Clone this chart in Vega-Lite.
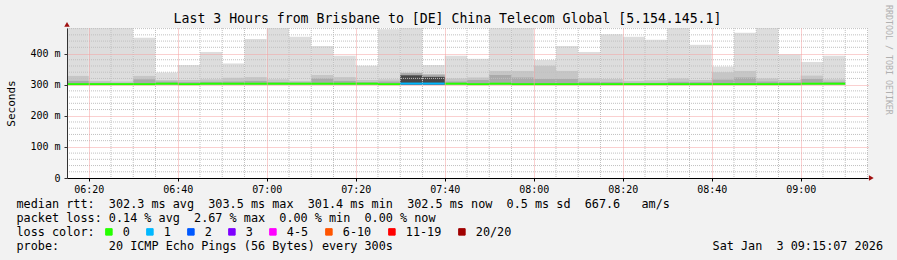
{
  "$schema": "https://vega.github.io/schema/vega-lite/v6.json",
  "width": 801,
  "height": 150,
  "autosize": {"type": "none"},
  "padding": {"left": 67, "top": 28, "right": 29, "bottom": 82},
  "background": "#f2f2f2",
  "title": {
    "text": "Last 3 Hours from Brisbane to [DE] China Telecom Global [5.154.145.1]",
    "font": "DejaVu Sans Mono",
    "fontSize": 13.2,
    "fontWeight": "normal",
    "color": "#000000",
    "anchor": "middle",
    "baseline": "alphabetic",
    "offset": 4,
    "dx": -20,
    "dy": 35
  },
  "datasets": {
    "cols": [
      {"t": "2026-01-03T06:15:00", "t2": "2026-01-03T06:20:00", "lo": 300, "max": 482, "mid": 328, "dark": 312, "med": 301.5, "loss": "0"},
      {"t": "2026-01-03T06:20:00", "t2": "2026-01-03T06:25:00", "lo": 300, "max": 482, "mid": 312, "dark": 306, "med": 301.5, "loss": "0"},
      {"t": "2026-01-03T06:25:00", "t2": "2026-01-03T06:30:00", "lo": 300, "max": 482, "mid": 310, "dark": 305, "med": 301.5, "loss": "0"},
      {"t": "2026-01-03T06:30:00", "t2": "2026-01-03T06:35:00", "lo": 300, "max": 451, "mid": 328, "dark": 317, "med": 301.5, "loss": "0"},
      {"t": "2026-01-03T06:35:00", "t2": "2026-01-03T06:40:00", "lo": 300, "max": 339, "mid": 315, "dark": 310, "med": 303, "loss": "0"},
      {"t": "2026-01-03T06:40:00", "t2": "2026-01-03T06:45:00", "lo": 300, "max": 363, "mid": 315, "dark": 308, "med": 301.5, "loss": "0"},
      {"t": "2026-01-03T06:45:00", "t2": "2026-01-03T06:50:00", "lo": 300, "max": 405, "mid": 317, "dark": 309, "med": 303, "loss": "0"},
      {"t": "2026-01-03T06:50:00", "t2": "2026-01-03T06:55:00", "lo": 300, "max": 368, "mid": 322, "dark": 310, "med": 303, "loss": "0"},
      {"t": "2026-01-03T06:55:00", "t2": "2026-01-03T07:00:00", "lo": 300, "max": 447, "mid": 324, "dark": 312, "med": 303, "loss": "0"},
      {"t": "2026-01-03T07:00:00", "t2": "2026-01-03T07:05:00", "lo": 300, "max": 482, "mid": 317, "dark": 308, "med": 303, "loss": "0"},
      {"t": "2026-01-03T07:05:00", "t2": "2026-01-03T07:10:00", "lo": 300, "max": 454, "mid": 312, "dark": 307, "med": 303, "loss": "0"},
      {"t": "2026-01-03T07:10:00", "t2": "2026-01-03T07:15:00", "lo": 300, "max": 424, "mid": 331, "dark": 320, "med": 303, "loss": "0"},
      {"t": "2026-01-03T07:15:00", "t2": "2026-01-03T07:20:00", "lo": 300, "max": 393, "mid": 324, "dark": 312, "med": 303, "loss": "0"},
      {"t": "2026-01-03T07:20:00", "t2": "2026-01-03T07:25:00", "lo": 300, "max": 361, "mid": 315, "dark": 308, "med": 303, "loss": "0"},
      {"t": "2026-01-03T07:25:00", "t2": "2026-01-03T07:30:00", "lo": 300, "max": 478, "mid": 317, "dark": 310, "med": 301.5, "loss": "0"},
      {"t": "2026-01-03T07:30:00", "t2": "2026-01-03T07:35:00", "lo": 300, "max": 482, "mid": 339, "dark": 337, "core": 330, "med": 303.5, "loss": "1"},
      {"t": "2026-01-03T07:35:00", "t2": "2026-01-03T07:40:00", "lo": 300, "max": 363, "mid": 334, "dark": 332, "core": 325, "med": 303.5, "loss": "1"},
      {"t": "2026-01-03T07:40:00", "t2": "2026-01-03T07:45:00", "lo": 300, "max": 393, "mid": 320, "dark": 310, "med": 303, "loss": "0"},
      {"t": "2026-01-03T07:45:00", "t2": "2026-01-03T07:50:00", "lo": 300, "max": 383, "mid": 323, "dark": 315, "med": 301.5, "loss": "0"},
      {"t": "2026-01-03T07:50:00", "t2": "2026-01-03T07:55:00", "lo": 300, "max": 482, "mid": 344, "dark": 331, "med": 303, "loss": "0"},
      {"t": "2026-01-03T07:55:00", "t2": "2026-01-03T08:00:00", "lo": 300, "max": 482, "mid": 344, "dark": 323, "med": 301.5, "loss": "0"},
      {"t": "2026-01-03T08:00:00", "t2": "2026-01-03T08:05:00", "lo": 300, "max": 379, "mid": 361, "dark": 318, "med": 301.5, "loss": "0"},
      {"t": "2026-01-03T08:05:00", "t2": "2026-01-03T08:10:00", "lo": 300, "max": 424, "mid": 344, "dark": 318, "med": 301.5, "loss": "0"},
      {"t": "2026-01-03T08:10:00", "t2": "2026-01-03T08:15:00", "lo": 300, "max": 405, "mid": 320, "dark": 309, "med": 301.5, "loss": "0"},
      {"t": "2026-01-03T08:15:00", "t2": "2026-01-03T08:20:00", "lo": 300, "max": 462, "mid": 318, "dark": 308, "med": 301.5, "loss": "0"},
      {"t": "2026-01-03T08:20:00", "t2": "2026-01-03T08:25:00", "lo": 300, "max": 454, "mid": 312, "dark": 306, "med": 301.5, "loss": "0"},
      {"t": "2026-01-03T08:25:00", "t2": "2026-01-03T08:30:00", "lo": 300, "max": 444, "mid": 314, "dark": 306, "med": 301.5, "loss": "0"},
      {"t": "2026-01-03T08:30:00", "t2": "2026-01-03T08:35:00", "lo": 300, "max": 482, "mid": 320, "dark": 309, "med": 301.5, "loss": "0"},
      {"t": "2026-01-03T08:35:00", "t2": "2026-01-03T08:40:00", "lo": 300, "max": 428, "mid": 315, "dark": 308, "med": 301.5, "loss": "0"},
      {"t": "2026-01-03T08:40:00", "t2": "2026-01-03T08:45:00", "lo": 300, "max": 358, "mid": 340, "dark": 316, "med": 301.5, "loss": "0"},
      {"t": "2026-01-03T08:45:00", "t2": "2026-01-03T08:50:00", "lo": 300, "max": 467, "mid": 344, "dark": 323, "med": 301.5, "loss": "0"},
      {"t": "2026-01-03T08:50:00", "t2": "2026-01-03T08:55:00", "lo": 300, "max": 482, "mid": 320, "dark": 310, "med": 301.5, "loss": "0"},
      {"t": "2026-01-03T08:55:00", "t2": "2026-01-03T09:00:00", "lo": 300, "max": 397, "mid": 315, "dark": 308, "med": 301.5, "loss": "0"},
      {"t": "2026-01-03T09:00:00", "t2": "2026-01-03T09:05:00", "lo": 300, "max": 373, "mid": 329, "dark": 318, "med": 303, "loss": "0"},
      {"t": "2026-01-03T09:05:00", "t2": "2026-01-03T09:10:00", "lo": 300, "max": 393, "mid": 317, "dark": 309, "med": 303, "loss": "0"}
    ],
    "hgrid": [
      {"v": 20}, {"v": 40}, {"v": 60}, {"v": 80}, {"v": 120}, {"v": 140}, {"v": 160}, {"v": 180},
      {"v": 220}, {"v": 240}, {"v": 260}, {"v": 280}, {"v": 320}, {"v": 340}, {"v": 360}, {"v": 380},
      {"v": 420}, {"v": 440}, {"v": 460}, {"v": 480}
    ],
    "vgrid": [
      {"g": "2026-01-03T06:25:00"}, {"g": "2026-01-03T06:30:00"}, {"g": "2026-01-03T06:35:00"},
      {"g": "2026-01-03T06:45:00"}, {"g": "2026-01-03T06:50:00"}, {"g": "2026-01-03T06:55:00"},
      {"g": "2026-01-03T07:05:00"}, {"g": "2026-01-03T07:10:00"}, {"g": "2026-01-03T07:15:00"},
      {"g": "2026-01-03T07:25:00"}, {"g": "2026-01-03T07:30:00"}, {"g": "2026-01-03T07:35:00"},
      {"g": "2026-01-03T07:45:00"}, {"g": "2026-01-03T07:50:00"}, {"g": "2026-01-03T07:55:00"},
      {"g": "2026-01-03T08:05:00"}, {"g": "2026-01-03T08:10:00"}, {"g": "2026-01-03T08:15:00"},
      {"g": "2026-01-03T08:25:00"}, {"g": "2026-01-03T08:30:00"}, {"g": "2026-01-03T08:35:00"},
      {"g": "2026-01-03T08:45:00"}, {"g": "2026-01-03T08:50:00"}, {"g": "2026-01-03T08:55:00"},
      {"g": "2026-01-03T09:05:00"}, {"g": "2026-01-03T09:10:00"}, {"g": "2026-01-03T09:15:00"}
    ],
    "stamp": [{"label": "RRDTOOL / TOBI OETIKER"}]
  },
  "data": {"name": "cols"},
  "layer": [
    {
      "mark": {"type": "bar", "color": "#dddddd", "clip": true},
      "encoding": {
        "x": {
          "field": "t", "type": "temporal",
          "scale": {"domain": ["2026-01-03T06:15:07", "2026-01-03T09:15:07"]},
          "axis": {
            "orient": "bottom",
            "values": ["2026-01-03T06:20:00", "2026-01-03T06:40:00", "2026-01-03T07:00:00", "2026-01-03T07:20:00", "2026-01-03T07:40:00", "2026-01-03T08:00:00", "2026-01-03T08:20:00", "2026-01-03T08:40:00", "2026-01-03T09:00:00"],
            "tickCount": 40,
            "format": "%H:%M",
            "labelFont": "DejaVu Sans Mono", "labelFontSize": 10, "labelColor": "#000000",
            "labelPadding": 3, "labelFlush": false, "labelOverlap": false,
            "ticks": true, "tickSize": 3, "tickColor": "#000000",
            "domain": true, "domainColor": "#000000", "domainWidth": 1,
            "grid": true, "gridColor": "#f4a0a0", "gridDash": [1, 1], "gridWidth": 1, "zindex": 1,
            "title": [
              "median\u00a0rtt:\u00a0\u00a0302.3\u00a0ms\u00a0avg\u00a0\u00a0303.5\u00a0ms\u00a0max\u00a0\u00a0301.4\u00a0ms\u00a0min\u00a0\u00a0302.5\u00a0ms\u00a0now\u00a0\u00a00.5\u00a0ms\u00a0sd\u00a0\u00a0667.6\u00a0\u00a0\u00a0am/s",
              "packet\u00a0loss:\u00a00.14\u00a0%\u00a0avg\u00a0\u00a02.67\u00a0%\u00a0max\u00a0\u00a00.00\u00a0%\u00a0min\u00a0\u00a00.00\u00a0%\u00a0now",
              "loss\u00a0color:",
              "probe:\u00a0\u00a0\u00a0\u00a0\u00a0\u00a0\u00a020\u00a0ICMP\u00a0Echo\u00a0Pings\u00a0(56\u00a0Bytes)\u00a0every\u00a0300s\u00a0\u00a0\u00a0\u00a0\u00a0\u00a0\u00a0\u00a0\u00a0\u00a0\u00a0\u00a0\u00a0\u00a0\u00a0\u00a0\u00a0\u00a0\u00a0\u00a0\u00a0\u00a0\u00a0\u00a0\u00a0\u00a0\u00a0\u00a0\u00a0\u00a0\u00a0\u00a0\u00a0\u00a0\u00a0\u00a0\u00a0\u00a0\u00a0\u00a0\u00a0\u00a0\u00a0\u00a0\u00a0Sat\u00a0Jan\u00a0\u00a03\u00a009:15:07\u00a02026"
            ],
            "titleFont": "DejaVu Sans Mono", "titleFontSize": 11.8, "titleFontWeight": "normal", "titleColor": "#000000",
            "titleAnchor": "start", "titleAlign": "left", "titleBaseline": "alphabetic",
            "titleX": -51, "titleY": 29.3, "titleLineHeight": 14
          }
        },
        "x2": {"field": "t2"},
        "y": {
          "field": "lo", "type": "quantitative",
          "scale": {"domain": [0, 482], "nice": false, "zero": false},
          "axis": {
            "orient": "left",
            "values": [0, 100, 200, 300, 400],
            "tickCount": 10,
            "labelExpr": "datum.value == 0 ? '0' : datum.value + ' m'",
            "labelFont": "DejaVu Sans Mono", "labelFontSize": 10, "labelColor": "#000000",
            "labelOverlap": false, "labelFlush": false,
            "labelPadding": 4, "ticks": true, "tickSize": 3, "tickColor": "#333333",
            "domain": true, "domainColor": "#333333", "domainWidth": 1,
            "grid": true, "gridColor": "#f4a0a0", "gridDash": [1, 1], "gridWidth": 1, "zindex": 1,
            "title": "Seconds", "titleFont": "DejaVu Sans Mono", "titleFontSize": 11, "titleFontWeight": "normal",
            "titleColor": "#000000", "titleX": -56, "titleAngle": -90, "titleAlign": "center", "titleBaseline": "middle"
          }
        },
        "y2": {"field": "max"}
      }
    },
    {
      "mark": {"type": "bar", "color": "#c6c6c6", "clip": true},
      "encoding": {
        "x": {"field": "t", "type": "temporal"},
        "x2": {"field": "t2"},
        "y": {"field": "lo", "type": "quantitative"},
        "y2": {"field": "mid"}
      }
    },
    {
      "mark": {"type": "bar", "color": "#aaaaaa", "clip": true},
      "encoding": {
        "x": {"field": "t", "type": "temporal"},
        "x2": {"field": "t2"},
        "y": {"field": "lo", "type": "quantitative"},
        "y2": {"field": "dark"}
      }
    },
    {
      "transform": [{"filter": "isValid(datum.core)"}],
      "mark": {"type": "bar", "color": "#474747", "clip": true},
      "encoding": {
        "x": {"field": "t", "type": "temporal"},
        "x2": {"field": "t2"},
        "y": {"field": "lo", "type": "quantitative"},
        "y2": {"field": "core"}
      }
    },
    {
      "data": {"name": "hgrid"},
      "mark": {"type": "rule", "color": "#c0c0c0", "strokeDash": [1, 1], "strokeWidth": 1},
      "encoding": {
        "y": {"field": "v", "type": "quantitative"}
      }
    },
    {
      "data": {"name": "vgrid"},
      "mark": {"type": "rule", "color": "#c0c0c0", "strokeDash": [1, 1], "strokeWidth": 1},
      "encoding": {
        "x": {"field": "g", "type": "temporal"}
      }
    },
    {
      "mark": {"type": "bar", "opacity": 0, "clip": true},
      "encoding": {
        "x": {"field": "t", "type": "temporal"},
        "x2": {"field": "t2"},
        "y": {"field": "lo", "type": "quantitative"},
        "y2": {"field": "med"},
        "color": {
          "field": "loss", "type": "nominal",
          "scale": {
            "domain": ["0", "1", "2", "3", "4-5", "6-10", "11-19", "20/20"],
            "range": ["#26ff00", "#00b8ff", "#0059ff", "#7e00ff", "#ff00ff", "#ff5500", "#ff0000", "#a10000"]
          },
          "legend": {
            "orient": "none", "legendX": 36, "legendY": 198,
            "direction": "horizontal", "columns": 8, "gridAlign": "none", "title": null,
            "symbolType": "square", "symbolSize": 42, "symbolOpacity": 1,
            "symbolStrokeColor": "#000000", "symbolStrokeWidth": 1,
            "labelFont": "DejaVu Sans Mono", "labelFontSize": 11.8, "labelColor": "#000000",
            "labelOffset": 8, "columnPadding": 14
          }
        }
      }
    },
    {
      "mark": {"type": "rule", "strokeWidth": 2, "clip": true},
      "encoding": {
        "x": {"field": "t", "type": "temporal"},
        "x2": {"field": "t2"},
        "y": {"field": "med", "type": "quantitative"},
        "color": {"field": "loss", "type": "nominal"}
      }
    },
    {
      "data": {"name": "stamp"},
      "mark": {"type": "text", "angle": 90, "align": "left", "baseline": "middle", "font": "DejaVu Sans Mono", "fontSize": 8.3, "color": "#b0b0b0"},
      "encoding": {
        "x": {"datum": {"year": 2026, "month": 1, "date": 3, "hours": 9, "minutes": 19, "seconds": 37}, "type": "temporal"},
        "y": {"datum": 556, "type": "quantitative"},
        "text": {"field": "label"}
      }
    },
    {
      "data": {"name": "stamp"},
      "mark": {"type": "point", "shape": "triangle-right", "filled": true, "color": "#a01010", "size": 30, "opacity": 1},
      "encoding": {
        "x": {"datum": {"year": 2026, "month": 1, "date": 3, "hours": 9, "minutes": 15, "seconds": 52}, "type": "temporal"},
        "y": {"datum": 0, "type": "quantitative"}
      }
    },
    {
      "data": {"name": "stamp"},
      "mark": {"type": "point", "shape": "triangle-up", "filled": true, "color": "#a01010", "size": 30, "opacity": 1},
      "encoding": {
        "x": {"datum": {"year": 2026, "month": 1, "date": 3, "hours": 6, "minutes": 15, "seconds": 7}, "type": "temporal"},
        "y": {"datum": 494, "type": "quantitative"}
      }
    }
  ],
  "config": {
    "view": {"stroke": null, "fill": "#ffffff"},
    "font": "DejaVu Sans Mono"
  }
}
